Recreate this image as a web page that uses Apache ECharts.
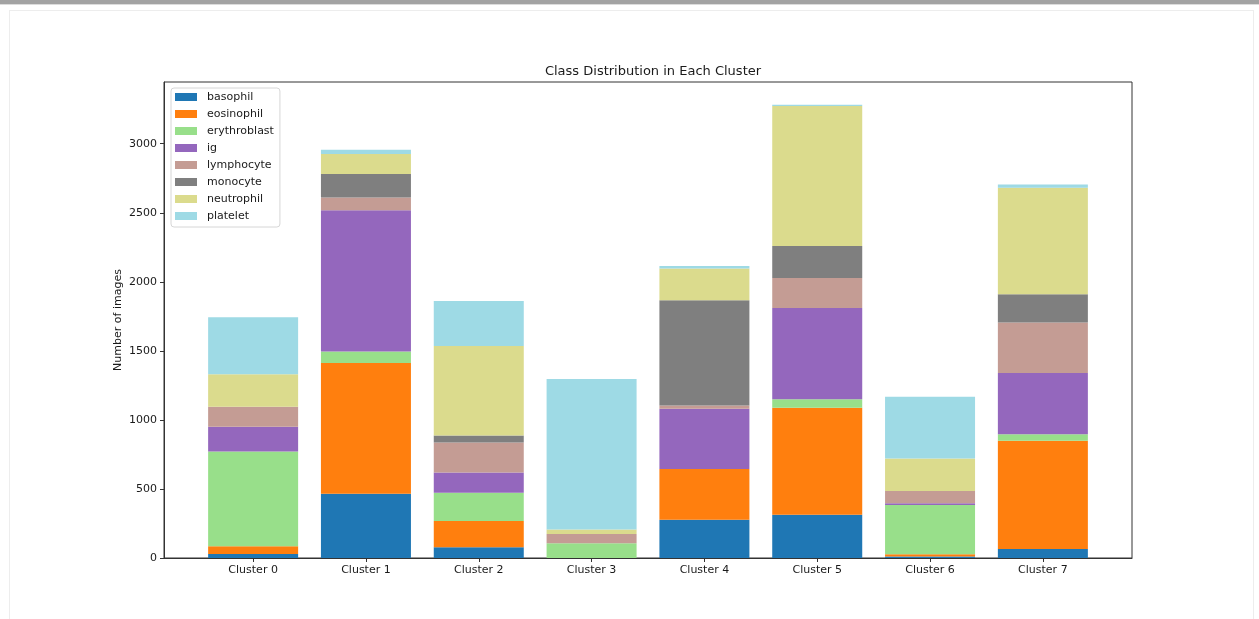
<!DOCTYPE html>
<html>
<head>
<meta charset="utf-8">
<title>Class Distribution in Each Cluster</title>
<script src="https://cdn.jsdelivr.net/npm/echarts@6/dist/echarts.min.js"></script>
<style>
  html, body { margin: 0; padding: 0; background: #fff; width: 1259px; height: 619px; overflow: hidden; }
  #topbar { position: absolute; left: 0; top: 0; width: 1259px; height: 4px; background: #a3a3a3; border-bottom: 1px solid #dcdcdc; }
  #card { position: absolute; left: 9px; top: 10px; width: 1245px; height: 640px; border: 1px solid #ededed; border-bottom: none; box-sizing: border-box; }
  #chart { position: absolute; left: 0; top: 0; width: 1259px; height: 619px; }
</style>
</head>
<body>
<div id="topbar"></div>
<div id="card"></div>
<div id="chart"></div>
<script>
// Image counts per class for each cluster
const clusters = ['Cluster 0', 'Cluster 1', 'Cluster 2', 'Cluster 3', 'Cluster 4', 'Cluster 5', 'Cluster 6', 'Cluster 7'];
const classNames = ['basophil', 'eosinophil', 'erythroblast', 'ig', 'lymphocyte', 'monocyte', 'neutrophil', 'platelet'];

const basophil     = [29, 465, 77, 0, 277, 313, 10, 65];
const eosinophil   = [56, 948, 191, 0, 367, 775, 17, 784];
const erythroblast = [687, 83, 205, 106, 0, 62, 357, 48];
const ig           = [178, 1022, 147, 0, 436, 661, 12, 442];
const lymphocyte   = [145, 92, 217, 68, 25, 217, 89, 367];
const monocyte     = [0, 171, 51, 0, 762, 232, 0, 204];
const neutrophil   = [236, 145, 648, 33, 229, 1013, 236, 772];
const platelet     = [413, 31, 326, 1090, 19, 10, 446, 22];

const yTicks = [0, 500, 1000, 1500, 2000, 2500, 3000];

const classValues = [basophil, eosinophil, erythroblast, ig, lymphocyte, monocyte, neutrophil, platelet];
// tab20 colours, one per class
const palette = ['#1f77b4', '#ff7f0e', '#98df8a', '#9467bd', '#c49c94', '#7f7f7f', '#dbdb8d', '#9edae5'];

const totals = clusters.map((_, i) => classValues.reduce((s, arr) => s + arr[i], 0));
const yMax = Math.max(...totals) * 1.05;
const positions = clusters.map((_, i) => i);

const textColor = '#1a1a1a';
const axisColor = '#333';
const fontFamily = 'DejaVu Sans';

const chart = echarts.init(document.getElementById('chart'), null, { renderer: 'canvas' });

chart.setOption({
  animation: false,
  textStyle: { fontFamily: fontFamily },
  title: {
    text: 'Class Distribution in Each Cluster',
    left: 648,
    textAlign: 'center',
    top: 60,
    textStyle: { fontFamily: fontFamily, fontSize: 13, fontWeight: 'normal', color: textColor }
  },
  legend: {
    orient: 'vertical',
    left: 171,
    top: 88,
    data: classNames,
    itemWidth: 22,
    itemHeight: 8,
    itemGap: 5,
    icon: 'rect',
    padding: [3, 6, 5, 4],
    backgroundColor: 'rgba(255,255,255,0.8)',
    borderColor: '#d6d6d6',
    borderWidth: 1,
    borderRadius: 3,
    textStyle: { fontFamily: fontFamily, fontSize: 11, color: textColor, lineHeight: 12, padding: [0, 0, 0, 5] }
  },
  grid: {
    left: 164,
    right: 127,
    top: 82,
    bottom: 61,
    show: true,
    borderColor: axisColor,
    borderWidth: 1,
    backgroundColor: 'transparent'
  },
  xAxis: {
    type: 'value',
    min: -0.79,
    max: 7.79,
    splitLine: { show: false },
    axisLine: { show: true, onZero: false, lineStyle: { color: axisColor, width: 1 } },
    axisTick: { show: true, length: 4, lineStyle: { color: axisColor }, customValues: positions },
    axisLabel: {
      customValues: positions,
      formatter: v => clusters[Math.round(v)],
      fontFamily: fontFamily,
      fontSize: 11,
      color: textColor,
      margin: 7
    }
  },
  yAxis: {
    type: 'value',
    min: 0,
    max: yMax,
    name: 'Number of images',
    nameLocation: 'middle',
    nameRotate: 90,
    nameGap: 40,
    nameMoveOverlap: false,
    nameTextStyle: { fontFamily: fontFamily, fontSize: 11, color: textColor },
    splitLine: { show: false },
    axisLine: { show: true, onZero: false, lineStyle: { color: axisColor, width: 1 } },
    axisTick: { show: true, length: 4, lineStyle: { color: axisColor }, customValues: yTicks },
    axisLabel: {
      customValues: yTicks,
      formatter: v => String(v),
      fontFamily: fontFamily,
      fontSize: 11,
      color: textColor,
      margin: 7
    }
  },
  // Each item is [count, cluster position]; the count comes first so that it is the stacked dimension.
  series: classNames.map((name, k) => ({
    name: name,
    type: 'bar',
    stack: 'total',
    barWidth: 90,
    encode: { x: 1, y: 0 },
    itemStyle: { color: palette[k] },
    data: classValues[k].map((v, i) => [v, positions[i]])
  }))
});
</script>
</body>
</html>
